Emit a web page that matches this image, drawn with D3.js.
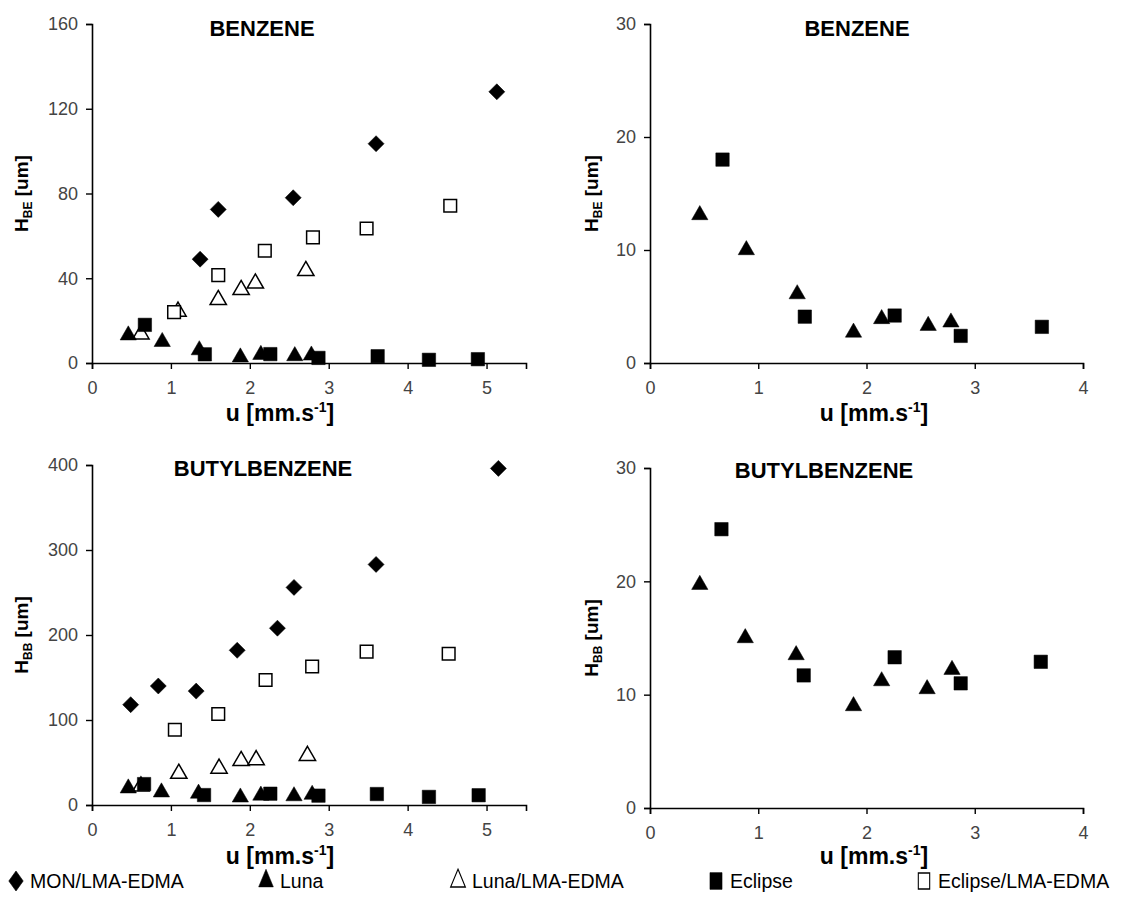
<!doctype html>
<html lang="en">
<head>
  <meta charset="utf-8">
  <title>HETP vs linear velocity</title>
  <script type="text/javascript" src="https://cdnjs.cloudflare.com/ajax/libs/d3/7.8.5/d3.min.js"></script>
  <style>
    body { margin: 0; background: #fff; }
    text { font-family: "Liberation Sans", Arial, sans-serif; }
  </style>
</head>
<body>
  <svg width="1126" height="897" id="svg"></svg>
<script type="text/javascript">

  // values: [u (mm/s), H (um)]
  var benzMon = [[1.37, 49], [1.6, 72.5], [2.55, 78], [3.6, 103.5], [5.13, 128]];
  var benzLuna = [[0.46, 13.1], [0.89, 10.0], [1.36, 6.1], [1.88, 2.7], [2.14, 3.9], [2.57, 3.3], [2.78, 3.6]];
  var benzLunaLma = [[0.62, 13.6], [1.09, 24.3], [1.6, 29.8], [1.89, 34.5], [2.07, 37.6], [2.71, 43.5]];
  var benzEclipse = [[0.67, 18.0], [1.43, 4.1], [2.26, 4.2], [2.87, 2.4], [3.62, 3.2], [4.27, 1.5], [4.89, 1.8]];
  var benzEclipseLma = [[1.04, 24], [1.6, 41.5], [2.19, 53], [2.8, 59.3], [3.48, 63.5], [4.54, 74.2]];

  var butMon = [[0.49, 118], [0.84, 140], [1.32, 134], [1.84, 182], [2.35, 208], [2.56, 256], [3.6, 283], [5.15, 396]];
  var butLuna = [[0.46, 19.7], [0.88, 15.0], [1.35, 13.5], [1.88, 9.0], [2.14, 11.2], [2.56, 10.5], [2.79, 12.2]];
  var butLunaLma = [[0.62, 22], [1.1, 37], [1.61, 43], [1.89, 52], [2.08, 53], [2.73, 58]];
  var butEclipse = [[0.66, 24.6], [1.42, 11.7], [2.26, 13.3], [2.87, 11.0], [3.61, 12.9], [4.27, 9.5], [4.9, 11.5]];
  var butEclipseLma = [[1.05, 88.5], [1.6, 107], [2.2, 147], [2.79, 163], [3.48, 180.5], [4.52, 178]];

  var legendNames = ["MON/LMA-EDMA", "Luna", "Luna/LMA-EDMA", "Eclipse", "Eclipse/LMA-EDMA"];

  var ticksWide = [0, 1, 2, 3, 4, 5];
  var ticksNarrow = [0, 1, 2, 3, 4];

  var svg = d3.select('#svg');

  // marker kinds, same order as legendNames
  var markers = [
    { type: d3.symbolSquare, size: 128, rotate: 45, fill: "#000" },
    { type: d3.symbolTriangle, size: 115, rotate: 0, fill: "#000" },
    { type: d3.symbolTriangle, size: 115, rotate: 0, fill: "#fff" },
    { type: d3.symbolSquare, size: 180, rotate: 0, fill: "#000" },
    { type: d3.symbolSquare, size: 160, rotate: 0, fill: "#fff" }
  ];

  var panels = [
    { title: "BENZENE", sub: "BE", left: 92, right: 526, bottom: 363, top: 24,
      xmax: 5.5, xticks: ticksWide, ymax: 160, yticks: [0, 40, 80, 120, 160],
      ylabX: 20, titleX: 262, titleY: 36, xlabX: 280, xlabY: 421,
      series: [[benzMon, 0], [benzLunaLma, 2], [benzEclipseLma, 4], [benzLuna, 1], [benzEclipse, 3]] },
    { title: "BENZENE", sub: "BE", left: 650, right: 1083, bottom: 363, top: 24,
      xmax: 4, xticks: ticksNarrow, ymax: 30, yticks: [0, 10, 20, 30],
      ylabX: 590, titleX: 857, titleY: 36, xlabX: 874, xlabY: 421,
      series: [[benzLuna, 1], [benzEclipse, 3]] },
    { title: "BUTYLBENZENE", sub: "BB", left: 92, right: 526, bottom: 805, top: 465,
      xmax: 5.5, xticks: ticksWide, ymax: 400, yticks: [0, 100, 200, 300, 400],
      ylabX: 20, titleX: 263, titleY: 476, xlabX: 280, xlabY: 864,
      series: [[butMon, 0], [butLunaLma, 2], [butEclipseLma, 4], [butLuna, 1], [butEclipse, 3]] },
    { title: "BUTYLBENZENE", sub: "BB", left: 650, right: 1083, bottom: 808, top: 468,
      xmax: 4, xticks: ticksNarrow, ymax: 30, yticks: [0, 10, 20, 30],
      ylabX: 590, titleX: 824, titleY: 478, xlabX: 874, xlabY: 864,
      series: [[butLuna, 1], [butEclipse, 3]] }
  ];

  panels.forEach(function(p) {
    var x = d3.scaleLinear().domain([0, p.xmax]).range([p.left, p.right]);
    var y = d3.scaleLinear().domain([0, p.ymax]).range([p.bottom, p.top]);

    var g = svg.append('g');

    var xAxis = g.append('g')
      .attr('transform', 'translate(0,' + p.bottom + ')')
      .call(d3.axisBottom(x).tickValues(p.xticks).tickSize(6).tickPadding(12).tickFormat(d3.format('d')));
    var yAxis = g.append('g')
      .attr('transform', 'translate(' + p.left + ',0)')
      .call(d3.axisLeft(y).tickValues(p.yticks).tickSize(6).tickPadding(8).tickFormat(d3.format('d')));

    [xAxis, yAxis].forEach(function(a) {
      a.select('.domain').attr('stroke', '#000').attr('stroke-width', 1.6);
      a.selectAll('.tick line').attr('stroke', '#000').attr('stroke-width', 1.4);
      a.selectAll('.tick text')
        .attr('fill', '#444')
        .style('font-size', '18px')
        .style('font-family', '"Liberation Sans", Arial, sans-serif');
    });

    // title
    g.append('text')
      .attr('x', p.titleX).attr('y', p.titleY)
      .attr('text-anchor', 'middle')
      .style('font-size', '22px').style('font-weight', 'bold')
      .text(p.title);

    // y label with subscript
    var yl = g.append('text')
      .attr('transform', 'translate(' + (p.ylabX + 8) + ',' + ((p.top + p.bottom) / 2) + ') rotate(-90)')
      .attr('text-anchor', 'middle')
      .style('font-size', '19px').style('font-weight', 'bold');
    yl.append('tspan').text('H');
    yl.append('tspan').attr('dy', 4).style('font-size', '12px').text(p.sub);
    yl.append('tspan').attr('dy', -4).text(' [um]');

    // x label with superscript
    var xl = g.append('text')
      .attr('x', p.xlabX).attr('y', p.xlabY)
      .attr('text-anchor', 'middle')
      .style('font-size', '23px').style('font-weight', 'bold');
    xl.append('tspan').text('u [mm.s');
    xl.append('tspan').attr('dy', -9).style('font-size', '14px').text('-1');
    xl.append('tspan').attr('dy', 9).text(']');

    p.series.forEach(function(s) {
      var m = markers[s[1]];
      var pts = s[0].filter(function(d) { return d[0] <= p.xmax; });
      g.append('g').selectAll('path')
        .data(pts)
        .enter().append('path')
        .attr('d', d3.symbol().type(m.type).size(m.size))
        .attr('transform', function(d) {
          return 'translate(' + x(d[0]) + ',' + y(d[1]) + ') rotate(' + m.rotate + ')';
        })
        .attr('fill', m.fill)
        .attr('stroke', '#000')
        .attr('stroke-width', m.fill === '#000' ? 0.5 : 1.5);
    });
  });

  // legend along the bottom, markers drawn a little taller than wide
  var legendX = [16, 266, 458, 716, 924];
  var legend = svg.append('g').attr('transform', 'translate(0,881)');
  legendNames.forEach(function(name, i) {
    var m = markers[i];
    legend.append('path')
      .attr('d', d3.symbol().type(m.type).size(m.size))
      .attr('transform', 'translate(' + legendX[i] + ',0) scale(0.9,1.25) rotate(' + m.rotate + ')')
      .attr('fill', m.fill)
      .attr('stroke', '#000')
      .attr('stroke-width', m.fill === '#000' ? 0.5 : 1.2);
    legend.append('text')
      .attr('x', legendX[i] + 14).attr('y', 7)
      .style('font-size', '19.5px')
      .text(name);
  });

</script>
</body>
</html>
